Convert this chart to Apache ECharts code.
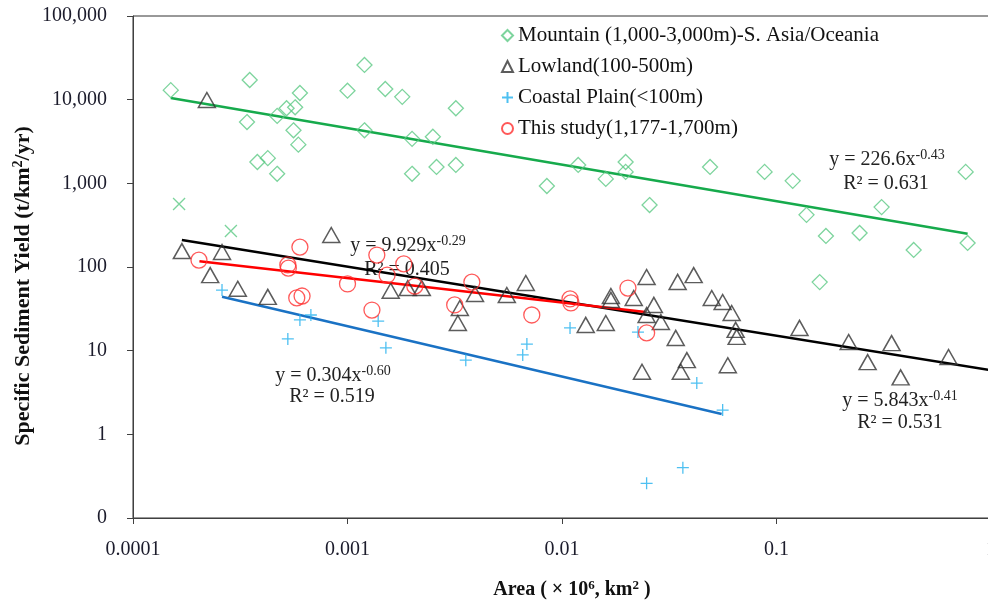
<!DOCTYPE html>
<html>
<head>
<meta charset="utf-8">
<script src="https://cdn.jsdelivr.net/npm/echarts@6/dist/echarts.min.js"></script>
<style>
html, body { margin: 0; padding: 0; background: #fff; }
#chart { width: 988px; height: 603px; }
</style>
</head>
<body>
<div id="chart"></div>
<script>
// Mountain (1,000-3,000m) - S. Asia/Oceania : [area, yield]
var mountain = [
  [0.00015, 13000], [0.00035, 17200], [0.00034, 5400], [0.00038, 1800], [0.000425, 2000],
  [0.00047, 1300], [0.00047, 6400], [0.00052, 7900], [0.00057, 8100], [0.0006, 12000],
  [0.00056, 4300], [0.00059, 2900], [0.001, 12800], [0.0012, 26000], [0.0015, 13400],
  [0.0018, 10800], [0.0012, 4300], [0.0032, 7900], [0.002, 3400], [0.0025, 3600],
  [0.002, 1300], [0.0026, 1570], [0.0032, 1660], [0.0085, 930], [0.0119, 1660],
  [0.016, 1130], [0.0198, 1800], [0.0198, 1370], [0.0256, 550], [0.049, 1570],
  [0.088, 1370], [0.119, 1070], [0.138, 420], [0.17, 235], [0.244, 255],
  [0.309, 520], [0.436, 160], [0.762, 1370], [0.778, 194], [0.159, 66]
];
// green crosses (no legend entry)
var mountainX = [[0.000164, 566], [0.000286, 269]];

var lowland = [
  [0.000221, 9900], [0.000169, 155], [0.00026, 151], [0.000229, 80], [0.000308, 55],
  [0.000425, 44], [0.00084, 241], [0.00159, 52], [0.00191, 56], [0.00222, 56],
  [0.00393, 47.5], [0.00334, 32.4], [0.00327, 21.4], [0.00553, 46.3], [0.00678, 64.4],
  [0.0129, 20.3], [0.016, 21.4], [0.0169, 45], [0.0169, 40.4], [0.0216, 42.6],
  [0.0248, 76], [0.0236, 5.6], [0.0248, 26.7], [0.0268, 35.2], [0.0289, 22],
  [0.0346, 66.3], [0.0411, 80], [0.0339, 14.2], [0.0382, 7.7], [0.0358, 5.6],
  [0.0499, 42.6], [0.0561, 38.2], [0.0618, 28.2], [0.0645, 17.7], [0.0652, 14.6],
  [0.0593, 6.7], [0.128, 18.7], [0.217, 12.7], [0.266, 7.3], [0.344, 12.3],
  [0.379, 4.8], [0.634, 8.4]
];

var coastal = [
  [0.00026, 53], [0.000527, 13.8], [0.0006, 23.3], [0.000675, 26.7], [0.00139, 22.6],
  [0.00151, 10.8], [0.00356, 7.7], [0.00686, 12.0], [0.00656, 8.9], [0.0109, 18.7],
  [0.0226, 16.7], [0.0425, 4.1], [0.0561, 1.95], [0.0366, 0.4], [0.0248, 0.26]
];

var thisStudy = [
  [0.000203, 121], [0.0006, 173], [0.000527, 106], [0.00053, 97], [0.00058, 42.7],
  [0.000614, 45], [0.001, 62.7], [0.0013, 30.6], [0.00137, 139], [0.00153, 80],
  [0.00183, 109], [0.00206, 59], [0.0038, 66], [0.00316, 35.2], [0.00723, 26.7],
  [0.0109, 41.5], [0.011, 37.2], [0.0203, 56], [0.0248, 16.3]
];

// power-law trend lines, end points
var mountainFit = [[0.00015, 10500], [0.778, 250]];
var lowlandFit = [[0.000169, 210], [1, 5.84]];
var studyFit = [[0.000204, 117], [0.0245, 29]];
var coastalFit = [[0.00026, 44], [0.0555, 1.75]];

var xTicks = ['0.0001', '0.001', '0.01', '0.1', '1'];

var FONT = '"Liberation Serif", "Times New Roman", serif';
var PLUS = 'path://M5,0L5,10M0,5L10,5';
var CROSS = 'path://M0,0L10,10M10,0L0,10';

var myChart = echarts.init(document.getElementById('chart'));

function eqText(x, y, main, sup) {
  return {
    type: 'text', x: x, y: y,
    style: {
      text: '{a|' + main + '}{s|' + sup + '}',
      align: 'center', verticalAlign: 'middle',
      rich: {
        a: { fontFamily: FONT, fontSize: 20, fill: '#222', lineHeight: 22 },
        s: { fontFamily: FONT, fontSize: 14, fill: '#222', lineHeight: 22, padding: [0, 0, 9, 0] }
      }
    }
  };
}
function r2Text(x, y, txt) {
  return {
    type: 'text', x: x, y: y,
    style: {
      text: txt, align: 'center', verticalAlign: 'middle',
      fontFamily: FONT, fontSize: 20, fill: '#222'
    }
  };
}

var option = {
  animation: false,
  textStyle: { fontFamily: FONT },
  grid: {
    left: 133, top: 16, right: -3, bottom: 85, outerBoundsMode: 'none',
    show: true, borderColor: '#333', borderWidth: 1
  },
  xAxis: {
    type: 'log', logBase: 10, min: 0.0001, max: 1,
    axisLine: { lineStyle: { color: '#404040', width: 1 } },
    axisTick: { show: true, inside: false, length: 6, lineStyle: { color: '#404040' } },
    minorTick: { show: false },
    splitLine: { show: false },
    axisLabel: {
      margin: 22, fontSize: 20, color: '#1c1c2c', fontFamily: FONT,
      formatter: function (v) {
        var p = Math.round(Math.log10(v));
        return xTicks[p + 4];
      }
    }
  },
  yAxis: {
    type: 'log', logBase: 10, min: 0.1, max: 100000,
    axisLine: { show: true, lineStyle: { color: '#404040', width: 1 } },
    axisTick: { show: true, inside: false, length: 6, lineStyle: { color: '#404040' } },
    minorTick: { show: false },
    splitLine: { show: false },
    axisLabel: {
      margin: 26, fontSize: 20, color: '#1c1c2c', fontFamily: FONT,
      formatter: function (v) {
        if (v < 0.5) return '0';
        return Math.round(v).toLocaleString('en-US');
      }
    }
  },
  legend: {
    orient: 'vertical', left: 496, top: 20, itemGap: 10,
    itemWidth: 11, itemHeight: 11,
    textStyle: { fontFamily: FONT, fontSize: 21, color: '#111', padding: [0, 0, 0, 0] },
    data: ['Mountain (1,000-3,000m)-S. Asia/Oceania', 'Lowland(100-500m)', 'Coastal Plain(<100m)', 'This study(1,177-1,700m)']
  },
  graphic: [
    eqText(887, 160, 'y = 226.6x', '-0.43'),
    r2Text(886, 184, 'R\u00b2 = 0.631'),
    eqText(408, 246, 'y = 9.929x', '-0.29'),
    r2Text(407, 270, 'R\u00b2 = 0.405'),
    eqText(333, 376, 'y = 0.304x', '-0.60'),
    r2Text(332, 397, 'R\u00b2 = 0.519'),
    eqText(900, 401, 'y = 5.843x', '-0.41'),
    r2Text(900, 423, 'R\u00b2 = 0.531'),
    {
      type: 'text', x: 572, y: 590,
      style: {
        text: '{b|Area ( \u00d7 10}{sup|6}{b|, km}{sup|2}{b| )}',
        align: 'center', verticalAlign: 'middle',
        rich: {
          b: { fontFamily: FONT, fontSize: 20, fontWeight: 'bold', fill: '#111', lineHeight: 24 },
          sup: { fontFamily: FONT, fontSize: 13, fontWeight: 'bold', fill: '#111', lineHeight: 24, padding: [0, 0, 9, 0] }
        }
      }
    },
    {
      type: 'text', x: 23, y: 286, rotation: Math.PI / 2,
      style: {
        text: '{b|Specific Sediment Yield (t/km}{sup|2}{b|/yr)}',
        align: 'center', verticalAlign: 'middle',
        rich: {
          b: { fontFamily: FONT, fontSize: 22, fontWeight: 'bold', fill: '#111', lineHeight: 26 },
          sup: { fontFamily: FONT, fontSize: 14, fontWeight: 'bold', fill: '#111', lineHeight: 26, padding: [0, 0, 10, 0] }
        }
      }
    }
  ],
  series: [
    {
      name: 'Mountain fit', type: 'line', data: mountainFit, symbol: 'none', silent: true,
      lineStyle: { color: '#16aa4c', width: 2.5 }, z: 1
    },
    {
      name: 'Lowland fit', type: 'line', data: lowlandFit, symbol: 'none', silent: true,
      lineStyle: { color: '#000', width: 2.5 }, z: 1
    },
    {
      name: 'Coastal fit', type: 'line', data: coastalFit, symbol: 'none', silent: true,
      lineStyle: { color: '#1a72c4', width: 2.5 }, z: 1
    },
    {
      name: 'Study fit', type: 'line', data: studyFit, symbol: 'none', silent: true,
      lineStyle: { color: '#ff0000', width: 2.5 }, z: 1
    },
    {
      name: 'Mountain (1,000-3,000m)-S. Asia/Oceania', type: 'scatter', data: mountain,
      symbol: 'diamond', symbolSize: 15,
      itemStyle: { color: 'rgba(0,0,0,0)', borderColor: '#5cc985', borderWidth: 1.3 }, z: 3
    },
    {
      name: 'Mountain cross', type: 'scatter', data: mountainX,
      symbol: CROSS, symbolSize: 12,
      itemStyle: { color: 'rgba(0,0,0,0)', borderColor: '#5cc985', borderWidth: 1.3 }, z: 3
    },
    {
      name: 'Lowland(100-500m)', type: 'scatter', data: lowland,
      symbol: 'triangle', symbolSize: [17, 15],
      itemStyle: { color: 'rgba(0,0,0,0)', borderColor: '#333', borderWidth: 1.5 }, z: 3
    },
    {
      name: 'Coastal Plain(<100m)', type: 'scatter', data: coastal,
      symbol: PLUS, symbolSize: 12,
      itemStyle: { color: 'rgba(0,0,0,0)', borderColor: '#22b0ee', borderWidth: 1.3 }, z: 3
    },
    {
      name: 'This study(1,177-1,700m)', type: 'scatter', data: thisStudy,
      symbol: 'circle', symbolSize: 16,
      itemStyle: { color: 'rgba(0,0,0,0)', borderColor: '#ff3030', borderWidth: 1.3 }, z: 3
    }
  ]
};

if (option && typeof option === 'object')
  myChart.setOption(option);
window.addEventListener('resize', function () {
  myChart.resize();
});
</script>
</body>
</html>
